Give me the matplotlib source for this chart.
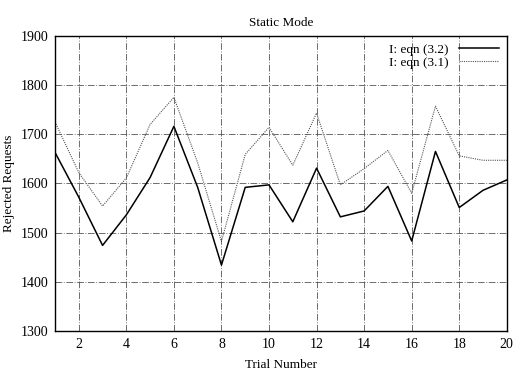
import matplotlib
matplotlib.use("Agg")
from matplotlib import pyplot as plt

# data
trials = list(range(1, 21))
eqn_32 = [1663, 1572, 1474, 1536, 1612, 1716, 1592, 1434, 1592, 1597,
          1522, 1631, 1532, 1544, 1594, 1483, 1665, 1551, 1586, 1607]
eqn_31 = [1725, 1622, 1554, 1611, 1720, 1775, 1642, 1482, 1659, 1714,
          1637, 1743, 1597, 1630, 1667, 1580, 1757, 1656, 1647, 1647]

plt.rcParams['font.family'] = ['Liberation Serif', 'DejaVu Serif']

fig = plt.figure(figsize=(5.14, 3.77), dpi=100)
ax = fig.add_axes([0.107, 0.122, 0.879, 0.783])

ax.plot(trials, eqn_32, color='black', lw=1.1, label='I: eqn (3.2)')
ax.plot(trials, eqn_31, color='#555555', lw=0.8, ls=(0, (1, 1)), label='I: eqn (3.1)')

ax.set_xlim(1, 20)
ax.set_ylim(1300, 1900)
ax.set_xticks(range(2, 21, 2))
ax.set_yticks(range(1300, 1901, 100))
ax.tick_params(direction='in', length=0, labelsize=10, pad=5)
ax.grid(True, color='#555555', lw=0.6, ls=(0, (8, 2, 1, 2)))
for s in ax.spines.values():
    s.set_linewidth(1.0)

ax.set_title('Static Mode', fontsize=9.5, pad=7)
ax.set_xlabel('Trial Number', fontsize=9.5, labelpad=6)
ax.set_ylabel('Rejected Requests', fontsize=9.5)

leg = ax.legend(loc='upper right', frameon=False, markerfirst=False,
                fontsize=9.5, handlelength=3.0, borderaxespad=0.2,
                labelspacing=0.05)

fig.savefig('out.png', dpi=100)
